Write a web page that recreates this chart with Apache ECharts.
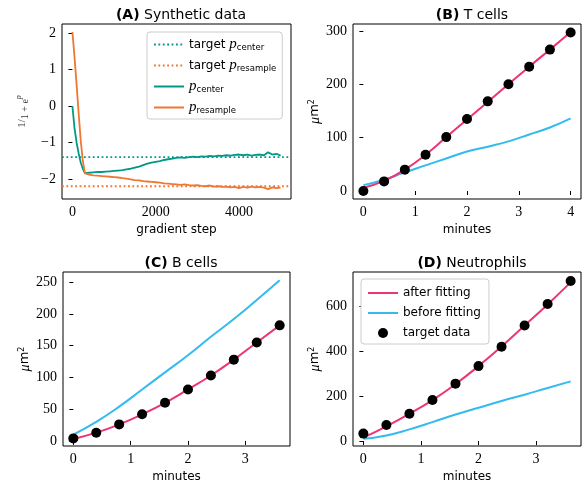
<!DOCTYPE html>
<html>
<head>
<meta charset="utf-8">
<script src="https://cdn.jsdelivr.net/npm/echarts@6/dist/echarts.min.js"></script>
<style>
  html, body { margin: 0; padding: 0; background: #fff; }
  #chart { width: 587px; height: 488px; }
</style>
</head>
<body>
<div id="chart"></div>
<script>
// (A) synthetic data: gradient steps and the two parameter traces
var stepA = [0, 25, 50, 100, 150, 200, 250, 300, 400, 500, 600, 700, 800, 900, 1000,
  1100, 1200, 1300, 1400, 1500, 1600, 1700, 1800, 1900, 2000, 2100, 2200, 2300, 2400,
  2500, 2600, 2700, 2800, 2900, 3000, 3100, 3200, 3300, 3400, 3500, 3600, 3700, 3800,
  3900, 4000, 4100, 4200, 4300, 4400, 4500, 4600, 4700, 4800, 4900, 5000];
var centerA = [0, -0.3, -0.6, -1.0, -1.3, -1.55, -1.72, -1.84, -1.83, -1.82, -1.81, -1.81,
  -1.80, -1.79, -1.78, -1.77, -1.76, -1.74, -1.72, -1.69, -1.66, -1.62, -1.58, -1.55, -1.53,
  -1.51, -1.48, -1.46, -1.44, -1.42, -1.41, -1.42, -1.40, -1.39, -1.40, -1.38, -1.39, -1.37,
  -1.38, -1.36, -1.37, -1.35, -1.36, -1.34, -1.33, -1.35, -1.33, -1.36, -1.34, -1.33, -1.35,
  -1.27, -1.33, -1.31, -1.36];
var resampleA = [2.03, 1.7, 1.35, 0.6, -0.2, -0.95, -1.5, -1.85, -1.88, -1.90, -1.91, -1.92,
  -1.93, -1.94, -1.95, -1.96, -1.98, -1.99, -2.01, -2.03, -2.04, -2.06, -2.07, -2.08, -2.09,
  -2.10, -2.12, -2.13, -2.14, -2.15, -2.16, -2.15, -2.17, -2.18, -2.17, -2.19, -2.20, -2.18,
  -2.21, -2.20, -2.22, -2.21, -2.23, -2.22, -2.25, -2.22, -2.24, -2.21, -2.23, -2.22, -2.24,
  -2.28, -2.23, -2.25, -2.24];
var targetCenter = -1.4;
var targetResample = -2.2;

// (B) T cells
var timeB = [0, 0.4, 0.8, 1.2, 1.6, 2.0, 2.4, 2.8, 3.2, 3.6, 4.0];
var tAfter = [6, 19, 40, 68, 101, 134, 167, 200, 233, 265, 298];
var tBefore = [11, 21, 35, 48, 61, 74, 83, 93, 106, 119, 136];
var tTarget = [0, 18, 40, 68, 101, 135, 168, 200, 233, 265, 297];

// (C) B cells
var timeC = [0, 0.4, 0.8, 1.2, 1.6, 2.0, 2.4, 2.8, 3.2, 3.6];
var bAfter = [3, 13, 26, 42, 60, 81, 103, 128, 155, 182];
var bBefore = [10, 30, 54, 81, 108, 135, 164, 192, 222, 253];
var bTarget = [4, 13, 26, 42, 60, 81, 103, 128, 155, 182];

// (D) Neutrophils
var timeD = [0, 0.4, 0.8, 1.2, 1.6, 2.0, 2.4, 2.8, 3.2, 3.6];
var nAfter = [15, 65, 121, 182, 253, 333, 420, 513, 607, 705];
var nBefore = [10, 25, 52, 84, 118, 148, 178, 206, 236, 265];
var nTarget = [33, 71, 121, 182, 255, 333, 419, 513, 609, 711];

// tick labels
var ticksAx = [0, 2000, 4000];
var ticksAy = [-2, -1, 0, 1, 2];
var ticksBx = [0, 1, 2, 3, 4];
var ticksBy = [0, 100, 200, 300];
var ticksCx = [0, 1, 2, 3];
var ticksCy = [0, 50, 100, 150, 200, 250];
var ticksDx = [0, 1, 2, 3];
var ticksDy = [0, 200, 400, 600];

var RED = "#ee3377", BLUE = "#33bbee", TEAL = "#009988", ORANGE = "#ee7733";
var SANS = "DejaVu Sans";
var SERIF = "Liberation Serif";
var DOTS = [1.8, 2.6];

function pairs(xs, ys) {
  return xs.map(function (x, i) { return [x, ys[i]]; });
}

function tickFmt(v) {
  return String(v).replace("-", "\u2212");
}

function mkAxis(gi, min, max, ticks, name, nameGap, nameStyle) {
  return {
    type: "value",
    gridIndex: gi,
    min: min,
    max: max,
    name: name,
    nameLocation: "middle",
    nameGap: nameGap,
    nameTextStyle: nameStyle,
    axisLine: { show: false },
    axisTick: {
      show: true, inside: false, length: 4,
      lineStyle: { color: "#000", width: 1 },
      customValues: ticks
    },
    axisLabel: {
      show: true, margin: 6,
      fontFamily: SERIF, fontSize: 14, color: "#000",
      customValues: ticks,
      formatter: tickFmt
    },
    splitLine: { show: false }
  };
}

var unitName = "{u|\u03bc}{m|m}{sup|2}";
var unitStyle = {
  color: "#000",
  rich: {
    u: { fontFamily: SERIF, fontStyle: "italic", fontSize: 14, color: "#000" },
    m: { fontFamily: SANS, fontSize: 13, color: "#000" },
    sup: { fontFamily: SANS, fontSize: 8, color: "#000", verticalAlign: "top", padding: [0, 0, 6, 0] }
  }
};
var minutesStyle = { fontFamily: SANS, fontSize: 12, color: "#000" };

var gridBox = { show: true, borderColor: "#000", borderWidth: 1, backgroundColor: "transparent" };

var legendNames = {
  tc: "{t|target }{p|p}{s|center}",
  tr: "{t|target }{p|p}{s|resample}",
  pc: "{p|p}{s|center}",
  pr: "{p|p}{s|resample}"
};

var myChart = echarts.init(document.getElementById("chart"));

var option = {
  animation: false,
  backgroundColor: "#fff",
  title: [
    { text: "{b|(A)} Synthetic data", left: 176, top: 3, textAlign: "center" },
    { text: "{b|(B)} T cells", left: 467, top: 3, textAlign: "center" },
    { text: "{b|(C)} B cells", left: 176, top: 251, textAlign: "center" },
    { text: "{b|(D)} Neutrophils", left: 467, top: 251, textAlign: "center" }
  ].map(function (t) {
    t.textStyle = {
      fontFamily: SANS, fontSize: 14, fontWeight: "normal", color: "#000",
      rich: { b: { fontFamily: SANS, fontSize: 14, fontWeight: "bold", color: "#000" } }
    };
    return t;
  }),
  grid: [
    Object.assign({ left: 62, top: 24, width: 229, height: 175 }, gridBox),
    Object.assign({ left: 353, top: 24, width: 228, height: 175 }, gridBox),
    Object.assign({ left: 63, top: 272, width: 227, height: 174 }, gridBox),
    Object.assign({ left: 353, top: 272, width: 228, height: 174 }, gridBox)
  ],
  xAxis: [
    mkAxis(0, -250, 5250, ticksAx, "gradient step", 25, minutesStyle),
    mkAxis(1, -0.2, 4.2, ticksBx, "minutes", 25, minutesStyle),
    mkAxis(2, -0.18, 3.78, ticksCx, "minutes", 25, minutesStyle),
    mkAxis(3, -0.18, 3.78, ticksDx, "minutes", 25, minutesStyle)
  ],
  yAxis: [
    mkAxis(0, -2.55, 2.25, ticksAy, "{n|1}{n|/}{d|1 + e}{e|p}", 32, {
      color: "#333",
      rich: {
        n: { fontFamily: SERIF, fontSize: 11, color: "#333" },
        d: { fontFamily: SERIF, fontSize: 10, color: "#333", verticalAlign: "bottom", padding: [5, 0, 0, 0] },
        e: { fontFamily: SERIF, fontStyle: "italic", fontSize: 8, color: "#333", verticalAlign: "top", padding: [0, 0, 5, 0] }
      }
    }),
    mkAxis(1, -15, 313, ticksBy, unitName, 30, unitStyle),
    mkAxis(2, -8, 266, ticksCy, unitName, 30, unitStyle),
    mkAxis(3, -22, 751, ticksDy, unitName, 30, unitStyle)
  ],
  legend: [
    {
      data: ["tc", "tr", "pc", "pr"],
      orient: "vertical",
      left: 147, top: 32,
      itemWidth: 30, itemHeight: 12, itemGap: 6,
      padding: [5, 6, 4, 6],
      backgroundColor: "#ffffff",
      borderColor: "#cccccc", borderWidth: 1, borderRadius: 3,
      selectedMode: false,
      itemStyle: { opacity: 0 },
      formatter: function (n) { return legendNames[n]; },
      textStyle: {
        color: "#000",
        rich: {
          t: { fontFamily: SANS, fontSize: 12, color: "#000" },
          p: { fontFamily: SERIF, fontStyle: "italic", fontSize: 15, color: "#000" },
          s: { fontFamily: SANS, fontSize: 8.5, color: "#000", verticalAlign: "bottom", padding: [5, 0, 0, 0] }
        }
      }
    },
    {
      data: ["after fitting", "before fitting",
        { name: "target data", icon: "circle", itemStyle: { opacity: 1, color: "#000" } }],
      orient: "vertical",
      left: 361, top: 279,
      itemWidth: 30, itemHeight: 10, itemGap: 8,
      padding: [8, 8, 5, 6],
      backgroundColor: "#ffffff",
      borderColor: "#cccccc", borderWidth: 1, borderRadius: 3,
      selectedMode: false,
      itemStyle: { opacity: 0 },
      textStyle: { fontFamily: SANS, fontSize: 12, color: "#000" }
    }
  ],
  series: [
    // (A)
    {
      name: "tc", type: "line", xAxisIndex: 0, yAxisIndex: 0, symbol: "none",
      data: [[-250, targetCenter], [5250, targetCenter]],
      lineStyle: { color: TEAL, width: 1.8, type: DOTS }, itemStyle: { color: TEAL }
    },
    {
      name: "tr", type: "line", xAxisIndex: 0, yAxisIndex: 0, symbol: "none",
      data: [[-250, targetResample], [5250, targetResample]],
      lineStyle: { color: ORANGE, width: 1.8, type: DOTS }, itemStyle: { color: ORANGE }
    },
    {
      name: "pc", type: "line", xAxisIndex: 0, yAxisIndex: 0, symbol: "none",
      data: pairs(stepA, centerA),
      lineStyle: { color: TEAL, width: 1.8 }, itemStyle: { color: TEAL }
    },
    {
      name: "pr", type: "line", xAxisIndex: 0, yAxisIndex: 0, symbol: "none",
      data: pairs(stepA, resampleA),
      lineStyle: { color: ORANGE, width: 1.8 }, itemStyle: { color: ORANGE }
    },
    // (B)
    {
      name: "before fitting", type: "line", xAxisIndex: 1, yAxisIndex: 1, symbol: "none", smooth: true,
      data: pairs(timeB, tBefore), lineStyle: { color: BLUE, width: 2 }, itemStyle: { color: BLUE }
    },
    {
      name: "after fitting", type: "line", xAxisIndex: 1, yAxisIndex: 1, symbol: "none", smooth: true,
      data: pairs(timeB, tAfter), lineStyle: { color: RED, width: 2 }, itemStyle: { color: RED }
    },
    {
      name: "target data", type: "scatter", xAxisIndex: 1, yAxisIndex: 1, symbolSize: 10, z: 5,
      data: pairs(timeB, tTarget), itemStyle: { color: "#000", opacity: 1 }
    },
    // (C)
    {
      name: "before fitting", type: "line", xAxisIndex: 2, yAxisIndex: 2, symbol: "none", smooth: true,
      data: pairs(timeC, bBefore), lineStyle: { color: BLUE, width: 2 }, itemStyle: { color: BLUE }
    },
    {
      name: "after fitting", type: "line", xAxisIndex: 2, yAxisIndex: 2, symbol: "none", smooth: true,
      data: pairs(timeC, bAfter), lineStyle: { color: RED, width: 2 }, itemStyle: { color: RED }
    },
    {
      name: "target data", type: "scatter", xAxisIndex: 2, yAxisIndex: 2, symbolSize: 10, z: 5,
      data: pairs(timeC, bTarget), itemStyle: { color: "#000", opacity: 1 }
    },
    // (D)
    {
      name: "after fitting", type: "line", xAxisIndex: 3, yAxisIndex: 3, symbol: "none", smooth: true,
      data: pairs(timeD, nAfter), lineStyle: { color: RED, width: 2 }, itemStyle: { color: RED }
    },
    {
      name: "before fitting", type: "line", xAxisIndex: 3, yAxisIndex: 3, symbol: "none", smooth: true,
      data: pairs(timeD, nBefore), lineStyle: { color: BLUE, width: 2 }, itemStyle: { color: BLUE }
    },
    {
      name: "target data", type: "scatter", xAxisIndex: 3, yAxisIndex: 3, symbolSize: 10, z: 5,
      data: pairs(timeD, nTarget), itemStyle: { color: "#000", opacity: 1 }
    }
  ]
};

myChart.setOption(option);
</script>
</body>
</html>
